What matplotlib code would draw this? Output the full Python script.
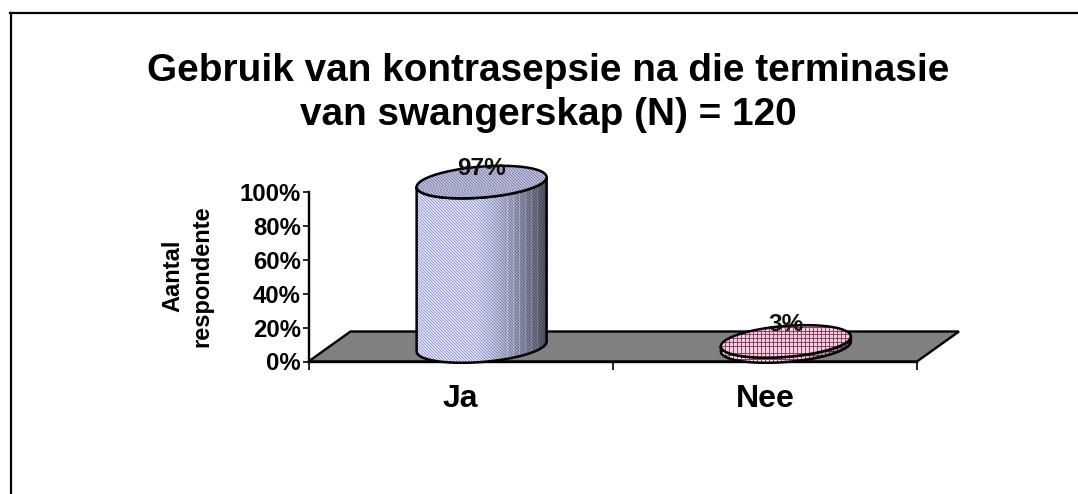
import numpy as np
import matplotlib
matplotlib.use("Agg")
import matplotlib.pyplot as plt
from matplotlib.patches import Polygon
from matplotlib.lines import Line2D

categories = ["Ja", "Nee"]
values = [97, 3]
value_labels = ["97%", "3%"]
y_ticks = [0, 20, 40, 60, 80, 100]
y_tick_labels = ["0%", "20%", "40%", "60%", "80%", "100%"]
title = "Gebruik van kontrasepsie na die terminasie\nvan swangerskap (N) = 120"
ylabel = "Aantal\nrespondente"

W, H = 1078, 494
plt.rcParams["font.family"] = ["Liberation Sans", "DejaVu Sans"]
fig = plt.figure(figsize=(W / 100, H / 100), dpi=100, facecolor="white")

# plot box in pixels
L, R, T, B = 308.5, 917.0, 192.0, 361.5
ax = fig.add_axes([L / W, 1 - B / H, (R - L) / W, (B - T) / H])
ax.set_xlim(-0.5, 1.5)
ax.set_ylim(0, 100)
ax.patch.set_visible(False)
for s in ("top", "right"):
    ax.spines[s].set_visible(False)
for s in ("left", "bottom"):
    ax.spines[s].set_linewidth(1.7)
    ax.spines[s].set_zorder(2)

pxx = (R - L) / 2.0   # px per x unit
pxy = (B - T) / 100.0 # px per y unit
DX, DY = 42 / pxx, 30 / pxy   # full floor depth
TILT = 0.076


def shape(cx, a_px=65.0, b_px=15.5):
    t = np.linspace(0, 2 * np.pi, 240)
    a, b = a_px / pxx, b_px / pxy
    ex = a * np.cos(t)
    ey = b * np.sin(t) + TILT * a_px * np.cos(t) / pxy
    return ex + cx + DX / 2, ey, t


# floor
floor = Polygon([(-0.5, 0), (-0.5 + DX, DY), (1.5 + DX, DY), (1.5, 0)],
                closed=True, fc="#808080", ec="black", lw=1.7, zorder=1,
                clip_on=False)
ax.add_patch(floor)

for i, (cat, val, lab) in enumerate(zip(categories, values, value_labels)):
    ex, ey, t = shape(i)
    base = DY / 2
    top = base + val
    xmin, xmax = ex.min(), ex.max()
    ymin, ymax = base + ey.min() - 1, top + ey.max() + 1
    # lower half of the ellipse, from leftmost to rightmost point
    il, ir = np.argmin(ex), np.argmax(ex)
    idx = np.r_[il:len(ex)] if ir < il else np.r_[il:ir + 1]
    bx, by = ex[idx], ey[idx]
    outline = np.r_[np.c_[bx, by + base], np.c_[bx[::-1], by[::-1] + top]]

    nx = int((xmax - xmin) * pxx) + 1
    ny = int((ymax - ymin) * pxy) + 1
    ix, iy = np.meshgrid(np.arange(nx), np.arange(ny))
    g = ix / max(nx - 1, 1)
    shade = np.clip(1.0 - 0.62 * np.clip((g - 0.45) / 0.55, 0, 1) ** 1.4, 0, 1)
    if i == 0:
        mask = ((ix + iy) % 3 == 0)[..., None]
        c_lt = np.array([218, 220, 248]) / 255
        c_dk = np.array([146, 150, 205]) / 255
        streak = (g > 0.68) & (ix % 6 == 0) & (g < 0.97)
        shade = np.where(streak, np.clip(shade + 0.14, 0, 1), shade)
    else:
        mask = ((ix % 4 == 0) | (iy % 4 == 0))[..., None]
        c_lt = np.array([250, 232, 240]) / 255
        c_dk = np.array([150, 60, 100]) / 255
    img = (mask * c_dk + (~mask) * c_lt) * shade[..., None]
    im = ax.imshow(img, extent=(xmin, xmax, ymin, ymax), origin="lower", aspect="auto",
                   interpolation="nearest", zorder=2.5)
    clip = Polygon(outline, closed=True, transform=ax.transData, fc="none", ec="none")
    ax.add_patch(clip)
    im.set_clip_box(fig.bbox)
    im.set_clip_path(clip)
    ax.add_patch(Polygon(outline, closed=True, fc="none", ec="black", lw=1.8, zorder=3,
                         clip_on=False))

    # top cap
    nyc = int((ey.max() - ey.min()) * pxy) + 3
    ix2, iy2 = np.meshgrid(np.arange(nx), np.arange(nyc))
    if i == 0:
        m2 = ((ix2 + iy2) % 3 == 0)[..., None]
        cap = m2 * (np.array([122, 126, 190]) / 255) + (~m2) * (np.array([188, 190, 208]) / 255)
    else:
        m2 = ((ix2 % 4 == 0) | (iy2 % 4 == 0))[..., None]
        cap = m2 * (np.array([150, 60, 100]) / 255) + (~m2) * (np.array([232, 214, 224]) / 255)
    cap_poly = np.c_[ex, ey + top]
    im2 = ax.imshow(cap, extent=(xmin, xmax, top + ey.min(), top + ey.max()), origin="lower",
                    aspect="auto", interpolation="nearest", zorder=3.5)
    cp = Polygon(cap_poly, closed=True, transform=ax.transData, fc="none", ec="none")
    ax.add_patch(cp)
    im2.set_clip_box(fig.bbox)
    im2.set_clip_path(cp)
    ax.add_patch(Polygon(cap_poly, closed=True, fc="none", ec="black", lw=1.8, zorder=4,
                         clip_on=False))

    ax.text(i + DX / 2, top + (8.0 if i == 0 else 10.0), lab, ha="center", va="center",
            fontsize=17.6, fontweight="bold", color="#111111", zorder=5, clip_on=False)

ax.set_xlim(-0.5, 1.5)
ax.set_ylim(0, 100)
ax.set_xticks([-0.5, 0.5, 1.5])
ax.set_xticklabels([])
ax.set_xticks([0, 1], categories, minor=True)
ax.tick_params(axis="x", which="major", length=5.5, width=1.2)
ax.tick_params(axis="x", which="minor", length=0, pad=16, labelsize=23)
for t_ in ax.get_xticklabels(minor=True):
    t_.set_fontweight("bold")
ax.set_yticks(y_ticks, y_tick_labels, fontsize=17.2, fontweight="bold")
ax.tick_params(axis="y", length=4.5, width=1.2, pad=1)

fig.text(548.5 / W, 1 - 93 / H, title, ha="center", va="center", fontsize=27.9,
         fontweight="bold", linespacing=1.3)
fig.text(187.5 / W, 1 - 276 / H, ylabel, rotation=90, ha="center", va="center",
         fontsize=17, fontweight="bold", linespacing=1.33)

# outer frame
fig.add_artist(Line2D([10.5 / W, 10.5 / W], [0, 1 - 13 / H], color="black", lw=1.6,
                      transform=fig.transFigure))
fig.add_artist(Line2D([10 / W, 1], [1 - 13 / H, 1 - 13 / H], color="black", lw=1.6,
                      transform=fig.transFigure))

fig.savefig("out.png", dpi=100, facecolor="white")
